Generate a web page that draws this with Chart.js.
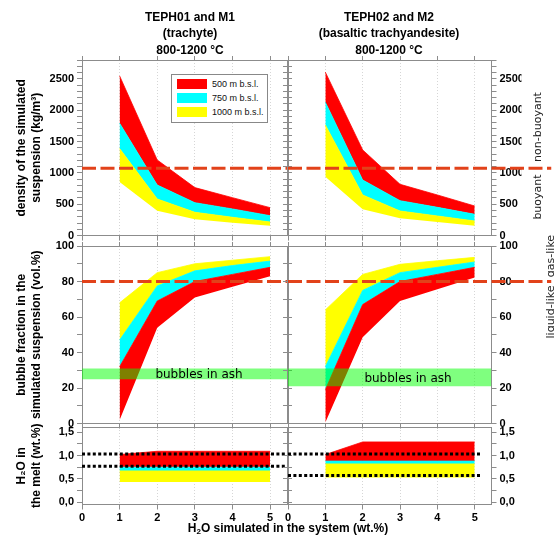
<!DOCTYPE html>
<html><head><meta charset="utf-8">
<script src="https://cdn.jsdelivr.net/npm/chart.js@4/dist/chart.umd.min.js"></script>
<style>
html,body{margin:0;padding:0;background:#fff;}
#wrap{position:relative;width:554px;height:539px;overflow:hidden;font-family:'Liberation Sans',Arial,sans-serif;}
#wrap canvas{position:absolute;left:0;top:0;}
.t{position:absolute;white-space:nowrap;color:#000;}
.ttl{font-weight:bold;font-size:12px;line-height:16.5px;text-align:center;width:240px;}
.rot{font-family:'DejaVu Sans',sans-serif;font-size:11px;transform:translate(-50%,-50%) rotate(-90deg);color:#222;}
.ann{font-family:'DejaVu Sans',sans-serif;font-size:12px;transform:translate(-50%,-50%);}
#legend{position:absolute;left:171px;top:74px;width:95px;height:47px;border:1px solid #888;background:#fff;}
#legend .sw{position:absolute;left:5px;width:30px;height:10px;}
#legend .lt{position:absolute;left:40px;font-size:9px;line-height:10px;color:#111;white-space:nowrap;}
</style></head><body>
<div id="wrap">
<canvas id="c1" width="554" height="539"></canvas>
<canvas id="c2" width="554" height="539"></canvas>
<canvas id="c3" width="554" height="539"></canvas>
<canvas id="c4" width="554" height="539"></canvas>
<canvas id="c5" width="554" height="539"></canvas>
<canvas id="c6" width="554" height="539"></canvas>

<div class="t ttl" style="left:70px;top:8.75px;">TEPH01 and M1<br>(trachyte)<br>800-1200 °C</div>
<div class="t ttl" style="left:269px;top:8.75px;">TEPH02 and M2<br>(basaltic trachyandesite)<br>800-1200 °C</div>

<div id="legend">
  <div class="sw" style="top:4px;background:#ff0000;"></div><div class="lt" style="top:4px;">500 m b.s.l.</div>
  <div class="sw" style="top:18px;background:#00ffff;"></div><div class="lt" style="top:18px;">750 m b.s.l.</div>
  <div class="sw" style="top:32px;background:#ffff00;"></div><div class="lt" style="top:32px;">1000 m b.s.l.</div>
</div>

<div class="t rot" style="left:537px;top:127px;">non-buoyant</div>
<div class="t rot" style="left:537px;top:197px;">buoyant</div>
<div class="t rot" style="left:550px;top:256px;">gas-like</div>
<div class="t rot" style="left:550px;top:312px;">liquid-like</div>

<div class="t ann" style="left:199px;top:374px;">bubbles in ash</div>
<div class="t ann" style="left:408px;top:378px;">bubbles in ash</div>

<div class="t" style="left:288px;top:528px;transform:translate(-50%,-50%);font-weight:bold;font-size:12px;">H<sub style="font-size:8px;vertical-align:-2px;">2</sub>O simulated in the system (wt.%)</div>
</div>

<script>
// ---------------- DATA ----------------
const h2oSystem = [1, 2, 3, 4, 5];               // H2O simulated in the system (wt.%)
const xTicks = [0, 1, 2, 3, 4, 5];

// Density of the simulated suspension (kg/m3) – band edges
const densL_1000low  = [855, 398, 260, 206, 158];
const densL_1000high = [1387, 584, 372, 292, 217];
const densL_750high  = [1792, 807, 525, 425, 318];
const densL_500high  = [2546, 1206, 765, 605, 446];

const densR_1000low  = [940, 420, 276, 217, 158];
const densR_1000high = [1765, 648, 392, 313, 233];
const densR_750high  = [2127, 887, 557, 451, 340];
const densR_500high  = [2606, 1366, 818, 648, 472];

// Bubble fraction in the simulated suspension (vol.%) – band edges
const bubL_500low   = [2, 54, 71, 77, 83];
const bubL_500high  = [32, 69, 80, 84, 88];
const bubL_750high  = [47, 77.5, 86, 89, 91.5];
const bubL_1000high = [68, 85, 90, 92, 94];

const bubR_500low   = [0.5, 48.6, 69, 75.6, 82.2];
const bubR_500high  = [19, 67, 80, 84, 88];
const bubR_750high  = [32, 75, 85, 88, 91];
const bubR_1000high = [64, 84, 89.7, 91.7, 93.6];

// H2O in the melt (wt.%) – band edges
const meltL_1000low  = [0.43, 0.43, 0.43, 0.43, 0.43];
const meltL_1000high = [0.67, 0.67, 0.67, 0.67, 0.67];
const meltL_750high  = [0.75, 0.75, 0.75, 0.75, 0.75];
const meltL_500high  = [1.02, 1.09, 1.09, 1.09, 1.09];

const meltR_1000low  = [0.53, 0.53, 0.53, 0.53, 0.53];
const meltR_1000high = [0.82, 0.82, 0.82, 0.82, 0.82];
const meltR_750high  = [0.88, 0.88, 0.88, 0.88, 0.88];
const meltR_500high  = [1.02, 1.29, 1.29, 1.29, 1.29];

// Reference levels
const buoyancyLimit = 1075;          // kg/m3
const gasLiquidLimit = 80;           // vol.%
const bubblesInAshL = [25, 31];      // vol.%
const bubblesInAshR = [21, 31];      // vol.%
const meltMeasuredL = [1.03, 0.77];  // wt.%
const meltMeasuredR = [1.03, 0.57];  // wt.%

// ---------------- STYLE / LAYOUT ----------------
const W = 554, H = 539;
const X_MAX = 5.45;
const FRAME = '#8c8c8c';
const RED = '#ff0000', CYAN = '#00ffff', YEL = '#ffff00';
const DASH_RED = '#e2421a';
const tickFont = {family: "'Liberation Sans', Arial, sans-serif", size: 11, weight: 'bold'};
const titleFont = {family: "'Liberation Sans', Arial, sans-serif", size: 12, weight: 'bold', lineHeight: 1.25};

const COLS = {L: {l: 82, r: 287}, R: {l: 288, r: 491.5}};
const ROWS = {top: {t: 60, b: 235.6}, mid: {t: 246, b: 423.5}, bot: {t: 427, b: 504.5}};

function pts(xs, ys) { return xs.map((x, i) => ({x: x, y: ys[i]})); }
function edge(ys) {
  return {data: pts(h2oSystem, ys), fill: false, borderColor: 'rgba(0,0,0,0)', borderWidth: 0, pointRadius: 0};
}
function band(ys, color) {
  return {data: pts(h2oSystem, ys), fill: '-1', backgroundColor: color, borderColor: color, borderWidth: 0.8, pointRadius: 0};
}
function hline(val, x0, x1, color, dash, width) {
  return {data: pts([x0, x1], [val, val]), fill: false, borderColor: color, borderDash: dash, borderWidth: width,
          borderCapStyle: 'butt', pointRadius: 0, clip: false};
}
function hband(lo, hi, color) {
  return [
    {data: pts([0, X_MAX], [lo, lo]), fill: false, borderColor: 'rgba(0,0,0,0)', borderWidth: 0, pointRadius: 0},
    {data: pts([0, X_MAX], [hi, hi]), fill: '-1', backgroundColor: color, borderColor: 'rgba(0,0,0,0)', borderWidth: 0, pointRadius: 0}
  ];
}

function panel(id, col, row, yCfg, datasets) {
  const c = COLS[col], r = ROWS[row];
  const yLW = col === 'L' ? 68 : 10;
  const yRW = col === 'L' ? 10 : 30;
  const showX = row === 'bot';
  const xH = showX ? 20 : 8;
  const x2H = 8;
  const pad = {left: c.l - yLW, right: W - c.r - yRW, top: r.t - x2H, bottom: H - r.b - xH};
  const yCommon = (pos, show, width) => ({
    type: 'linear', position: pos, min: yCfg.min, max: yCfg.max,
    afterFit: s => { s.width = width; },
    ticks: {display: show, stepSize: yCfg.step, autoSkip: false, includeBounds: false,
            callback: yCfg.fmt, padding: 3, color: '#000', font: tickFont},
    grid: {drawOnChartArea: false, drawTicks: true, tickLength: 5, tickColor: FRAME},
    border: {display: true, color: FRAME, width: 1},
    title: {display: pos === 'left' && col === 'L', text: yCfg.title, font: titleFont, color: '#000', padding: 0}
  });
  return new Chart(document.getElementById(id), {
    type: 'line',
    data: {datasets: datasets},
    options: {
      responsive: false, maintainAspectRatio: false, animation: false, devicePixelRatio: 1, events: [],
      layout: {padding: pad},
      plugins: {legend: {display: false}, title: {display: false}, tooltip: {enabled: false}},
      elements: {line: {tension: 0}},
      scales: {
        x: {
          type: 'linear', position: 'bottom', min: 0, max: X_MAX,
          afterFit: s => { s.height = xH; },
          ticks: {display: showX, stepSize: 1, autoSkip: false, includeBounds: false, maxRotation: 0,
                  padding: 2, color: '#000', font: tickFont, callback: v => xTicks.includes(v) ? String(v) : ''},
          grid: {drawOnChartArea: true, drawTicks: true, tickLength: 5, tickColor: FRAME, lineWidth: 1,
                 color: ctx => (ctx.tick && ctx.tick.value > 0) ? '#d6d6d6' : 'rgba(0,0,0,0)'},
          border: {display: true, color: FRAME, width: 1, dash: [1, 2]}
        },
        x2: {
          type: 'linear', position: 'top', min: 0, max: X_MAX,
          afterFit: s => { s.height = x2H; },
          ticks: {display: false, stepSize: 1, includeBounds: false},
          grid: {drawOnChartArea: false, drawTicks: true, tickLength: 4, tickColor: FRAME},
          border: {display: true, color: FRAME, width: 1}
        },
        y: yCommon('left', col === 'L', yLW),
        y2: yCommon('right', col === 'R', yRW)
      }
    }
  });
}

const fmtDens = v => (Math.abs(v % 500) < 1e-6) ? String(v) : '';
const fmtBub = v => (Math.abs(v % 20) < 1e-6) ? String(v) : '';
const fmtMelt = v => (Math.abs(v * 2 - Math.round(v * 2)) < 1e-6) ? v.toFixed(1).replace('.', ',') : '';

const densCfg = {min: 0, max: 2800, step: 100, fmt: fmtDens, title: ['density of the simulated', 'suspension (kg/m³)']};
const bubCfg  = {min: 0, max: 100, step: 10, fmt: fmtBub, title: ['bubble fraction in the', 'simulated suspension (vol.%)']};
const meltCfg = {min: -0.05, max: 1.61, step: 0.25, fmt: fmtMelt, title: ['H₂O in', 'the melt (wt.%)']};

const DASH = [14, 4.5];
const DOT = [3, 2.4];

// Top row: density
panel('c1', 'L', 'top', densCfg, [
  hline(buoyancyLimit, 0, X_MAX, DASH_RED, DASH, 3),
  edge(densL_1000low), band(densL_1000high, YEL), band(densL_750high, CYAN), band(densL_500high, RED)
]);
panel('c2', 'R', 'top', densCfg, [
  hline(buoyancyLimit, 0, 7.05, DASH_RED, DASH, 3),
  edge(densR_1000low), band(densR_1000high, YEL), band(densR_750high, CYAN), band(densR_500high, RED)
]);

// Middle row: bubble fraction
panel('c3', 'L', 'mid', bubCfg, [
  hline(gasLiquidLimit, 0, X_MAX, DASH_RED, DASH, 3),
  ...hband(bubblesInAshL[0], bubblesInAshL[1], 'rgba(0,255,0,0.5)'),
  edge(bubL_500low), band(bubL_500high, RED), band(bubL_750high, CYAN), band(bubL_1000high, YEL)
]);
panel('c4', 'R', 'mid', bubCfg, [
  hline(gasLiquidLimit, 0, 7.05, DASH_RED, DASH, 3),
  ...hband(bubblesInAshR[0], bubblesInAshR[1], 'rgba(0,255,0,0.5)'),
  edge(bubR_500low), band(bubR_500high, RED), band(bubR_750high, CYAN), band(bubR_1000high, YEL)
]);

// Bottom row: H2O in the melt
panel('c5', 'L', 'bot', meltCfg, [
  hline(meltMeasuredL[0], 0, X_MAX, '#000', DOT, 3),
  hline(meltMeasuredL[1], 0, X_MAX, '#000', DOT, 3),
  edge(meltL_1000low), band(meltL_1000high, YEL), band(meltL_750high, CYAN), band(meltL_500high, RED)
]);
panel('c6', 'R', 'bot', meltCfg, [
  hline(meltMeasuredR[0], 0, 5.2, '#000', DOT, 3),
  hline(meltMeasuredR[1], 0, 5.2, '#000', DOT, 3),
  edge(meltR_1000low), band(meltR_1000high, YEL), band(meltR_750high, CYAN), band(meltR_500high, RED)
]);
</script>
</body></html>
